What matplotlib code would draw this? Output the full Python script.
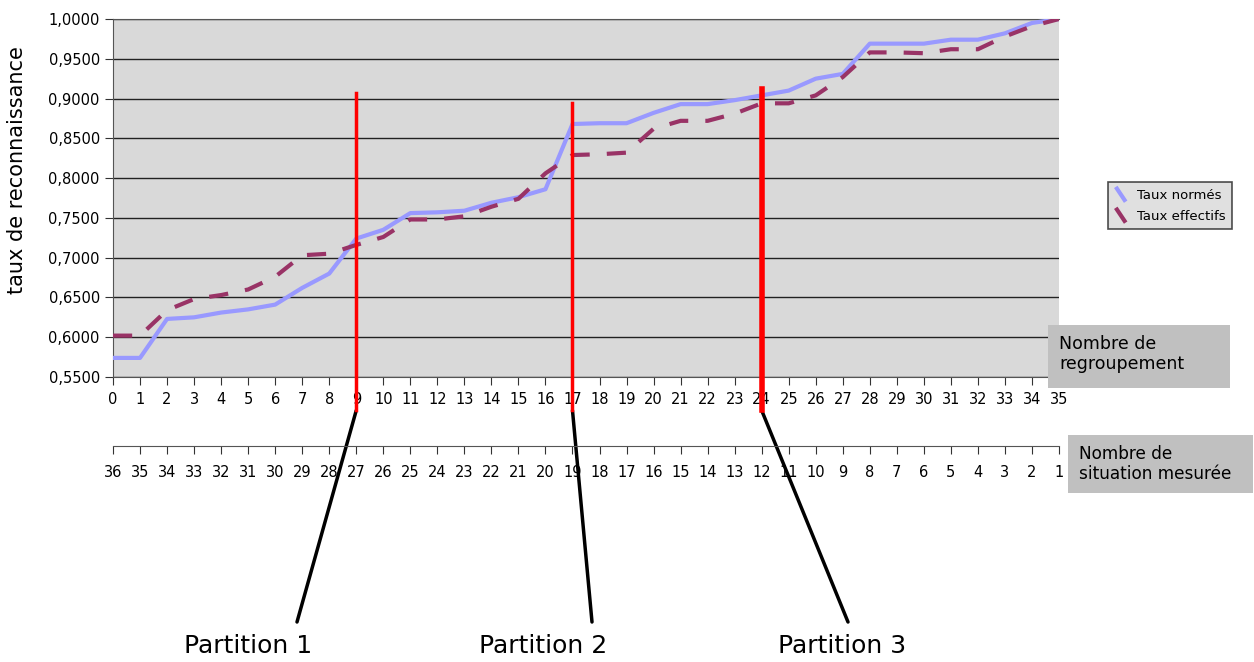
import numpy as np
import matplotlib
matplotlib.use("Agg")
import matplotlib.pyplot as plt
from matplotlib.lines import Line2D
from matplotlib.patches import Rectangle
from matplotlib.legend_handler import HandlerLine2D
from matplotlib.ticker import FuncFormatter

# data
regroupement = list(range(36))
situations = list(range(36, 0, -1))
taux_normes = [0.574, 0.574, 0.623, 0.625, 0.631, 0.635, 0.641, 0.662, 0.680, 0.724,
               0.735, 0.756, 0.757, 0.759, 0.769, 0.776, 0.786, 0.868, 0.869, 0.869,
               0.882, 0.893, 0.893, 0.898, 0.904, 0.910, 0.925, 0.931, 0.969, 0.969,
               0.969, 0.974, 0.974, 0.982, 0.995, 1.000]
taux_effectifs = [0.602, 0.602, 0.634, 0.648, 0.653, 0.660, 0.676, 0.703, 0.705, 0.716,
                  0.726, 0.748, 0.748, 0.752, 0.764, 0.774, 0.806, 0.829, 0.830, 0.832,
                  0.862, 0.872, 0.872, 0.881, 0.894, 0.894, 0.904, 0.927, 0.958, 0.958,
                  0.957, 0.962, 0.962, 0.978, 0.991, 1.000]
partitions = [9, 17, 24]
partition_tops = [0.907, 0.894, 0.912]
partition_labels = ["Partition 1", "Partition 2", "Partition 3"]


class DiagHandler(HandlerLine2D):
    # legend key drawn as a short diagonal stroke
    def create_artists(self, legend, orig_handle, xdescent, ydescent, width, height, fontsize, trans):
        x0 = -xdescent + width * 0.05
        x1 = -xdescent + width * 0.55
        ln = Line2D([x0, x1], [height - ydescent + 2, -ydescent - 2],
                    color=orig_handle.get_color(), lw=orig_handle.get_linewidth(),
                    solid_capstyle="butt")
        ln.set_transform(trans)
        return [ln]


W, H = 1254, 662
fig = plt.figure(figsize=(W / 100, H / 100), dpi=100)
L, R = 113 / W, 1059 / W
ax = fig.add_axes([L, 1 - 377 / H, R - L, (377 - 19) / H])
ax.set_facecolor("#d9d9d9")

ax.plot(regroupement, taux_normes, color="#9999ff", lw=3, label="Taux normés", zorder=3)
ax.plot(regroupement, taux_effectifs, color="#993366", lw=3, dashes=(4.6, 4.1),
        label="Taux effectifs", zorder=3)

ax.set_xlim(0, 35)
ax.set_ylim(0.55, 1.0)
ax.set_yticks(np.arange(0.55, 1.0001, 0.05))
ax.yaxis.set_major_formatter(FuncFormatter(lambda v, p: f"{v:.4f}".replace(".", ",")))
ax.set_xticks(regroupement)
ax.tick_params(axis="both", direction="out", length=6, labelsize=10.5, color="#333333")
ax.tick_params(axis="x", pad=5)
ax.yaxis.grid(True, color="#222222", lw=1)
ax.set_axisbelow(True)
ax.spines["right"].set_visible(False)
for s in ["top", "left", "bottom"]:
    ax.spines[s].set_color("#555555")
ax.set_ylabel("taux de reconnaissance", fontsize=15)
ax.yaxis.set_label_coords(-0.091, 0.578)

leg = ax.legend(handler_map={Line2D: DiagHandler()}, loc="center left",
                bbox_to_anchor=(1.052, 0.478), fontsize=9.5, frameon=True,
                fancybox=False, edgecolor="#222222", facecolor="#d9d9d9",
                handlelength=1.5, handletextpad=0.2, borderpad=0.5, labelspacing=0.6,
                borderaxespad=0)
leg.get_frame().set_linewidth(1.2)

# second axis: nombre de situations
ax2 = fig.add_axes([L, 1 - 446 / H, R - L, 0.0001])
ax2.set_xlim(0, 35)
ax2.set_xticks(regroupement)
ax2.set_xticklabels(situations)
ax2.set_yticks([])
ax2.patch.set_visible(False)
for s in ["left", "right", "top"]:
    ax2.spines[s].set_visible(False)
ax2.spines["bottom"].set_color("#555555")
ax2.tick_params(axis="x", direction="out", length=6, labelsize=10.5, pad=8, color="#333333")

# partitions
y_bottom = 0.508
for p, top, lab, lw, end_x, lab_x in zip(partitions, partition_tops, partition_labels,
                                         [2.5, 2.5, 4], [297, 592, 848], [248, 543, 842]):
    ax.plot([p, p], [top, y_bottom], color="#ff0000", lw=lw, clip_on=False, zorder=5)
    ax.annotate("", xy=(p, y_bottom), xytext=(end_x, H - 622), textcoords="figure pixels",
                annotation_clip=False,
                arrowprops=dict(arrowstyle="-", lw=2.5, color="black", shrinkA=0, shrinkB=0))
    fig.text(lab_x / W, 1 - 646 / H, lab, fontsize=18, ha="center", va="center")

# axis title boxes
fig.add_artist(Rectangle((1048 / W, 1 - 388 / H), 182 / W, 63 / H, transform=fig.transFigure,
                         fc="#c0c0c0", ec="none"))
fig.text(1059 / W, 1 - 354 / H, "Nombre de\nregroupement", fontsize=12.5, ha="left",
         va="center", linespacing=1.15)
fig.add_artist(Rectangle((1068 / W, 1 - 493 / H), 185 / W, 58 / H, transform=fig.transFigure,
                         fc="#c0c0c0", ec="none"))
fig.text(1079 / W, 1 - 464 / H, "Nombre de\nsituation mesurée", fontsize=12.2, ha="left",
         va="center", linespacing=1.15)

fig.savefig("out.png", dpi=100)
